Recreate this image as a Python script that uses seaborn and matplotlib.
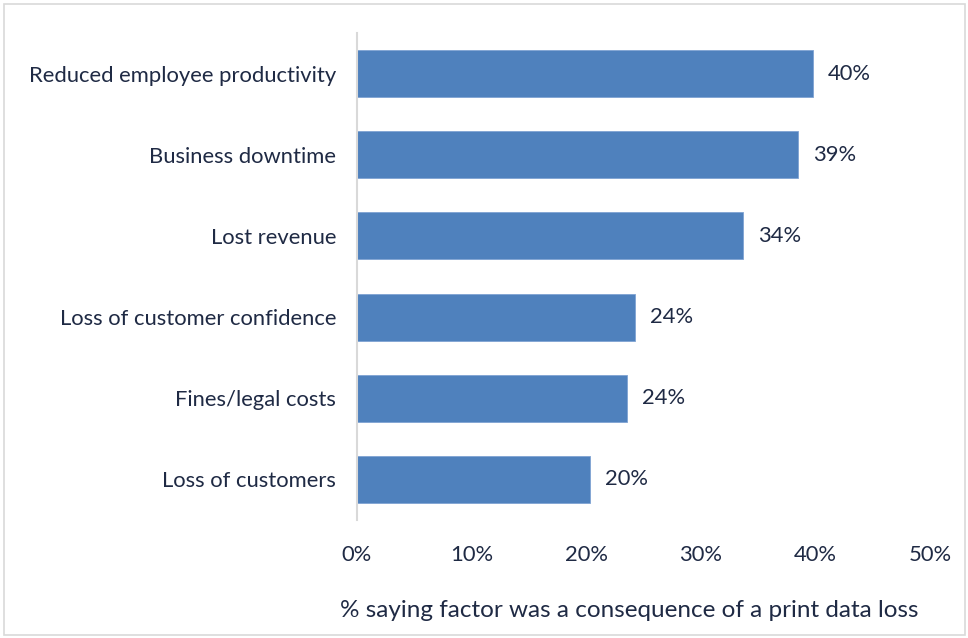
import pandas as pd
import matplotlib.pyplot as plt
import seaborn as sns
from matplotlib.patches import Rectangle

# data
factors = ["Reduced employee productivity", "Business downtime", "Lost revenue",
           "Loss of customer confidence", "Fines/legal costs", "Loss of customers"]
shares = [39.8, 38.5, 33.7, 24.3, 23.6, 20.3]
labels = ["40%", "39%", "34%", "24%", "24%", "20%"]
ticks = [0, 10, 20, 30, 40, 50]

df = pd.DataFrame({"factor": factors, "share": shares})

sns.set_style("white")
plt.rcParams['font.family'] = ['Lato', 'DejaVu Sans']
text_col = "#1f2a44"

fig = plt.figure(figsize=(9.68, 6.38), dpi=100)
ax = fig.add_axes([357/968, 1 - 520/638, (930-357)/968, (520-33)/638])

sns.barplot(data=df, x="share", y="factor", color="#4f81bd", saturation=1,
            width=0.58, edgecolor="#7fa3d3", linewidth=0.6, ax=ax)

for i, (v, lab) in enumerate(zip(shares, labels)):
    ax.text(v + 1.3, i, lab, va="center", ha="left", fontsize=15.8, color=text_col)

ax.set_xlim(0, 50)
ax.set_ylim(5.5, -0.5)
ax.set_xticks(ticks)
ax.set_xticklabels([f"{t}%" for t in ticks])
ax.tick_params(axis="both", length=0, labelsize=15.8, labelcolor=text_col)
ax.tick_params(axis="x", pad=18)
ax.tick_params(axis="y", pad=15)
ax.set_xlabel("% saying factor was a consequence of a print data loss",
              fontsize=17.5, color=text_col)
ax.xaxis.set_label_coords(0.475, -0.165)
ax.set_ylabel("")

for s in ["top", "right", "bottom"]:
    ax.spines[s].set_visible(False)
ax.spines["left"].set_color("#d9d9d9")
ax.spines["left"].set_linewidth(1.5)

# light frame around the chart area
fig.patches.append(Rectangle((4/968, 3/638), 961/968, 631/638, transform=fig.transFigure,
                             fill=False, edgecolor="#d9d9d9", linewidth=1.2))

fig.savefig("out.png", dpi=100)
